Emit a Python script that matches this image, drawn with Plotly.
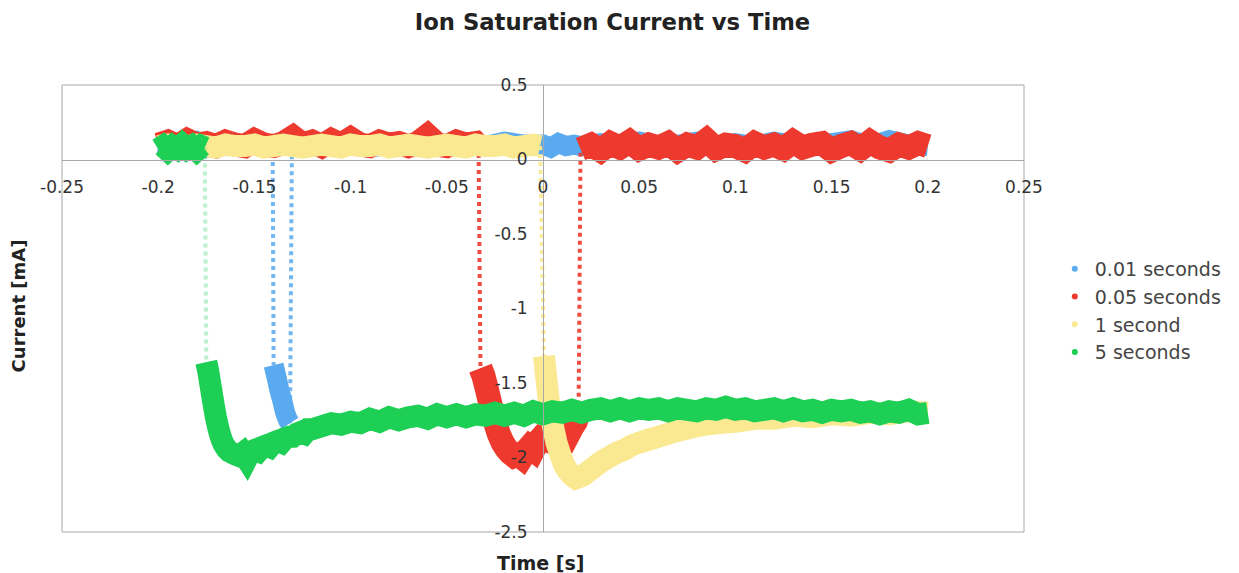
import plotly.graph_objects as go

# ---------------- axis ticks ----------------
X_TICKS = [-0.25, -0.2, -0.15, -0.1, -0.05, 0, 0.05, 0.1, 0.15, 0.2, 0.25]
X_TICK_TEXT = ["-0.25", "-0.2", "-0.15", "-0.1", "-0.05", "0", "0.05", "0.1", "0.15", "0.2", "0.25"]
Y_TICKS = [-2.5, -2, -1.5, -1, -0.5, 0, 0.5]
Y_TICK_TEXT = ["-2.5", "-2", "-1.5", "-1", "-0.5", "0", "0.5"]

SERIES_NAMES = ["0.01 seconds", "0.05 seconds", "1 second", "5 seconds"]

# ---------------- 0.01 seconds (blue) ----------------
BLUE_T1 = [-0.200, -0.195, -0.190, -0.185, -0.180, -0.175, -0.170, -0.165, -0.160, -0.155, -0.150, -0.145, -0.1405]
BLUE_I1 = [0.10, 0.09, 0.11, 0.09, 0.12, 0.08, 0.10, 0.09, 0.11, 0.08, 0.10, 0.09, 0.09]
BLUE_T2 = [-0.1400, -0.1385, -0.1370, -0.1355, -0.1340, -0.1325, -0.1315]
BLUE_I2 = [-1.38, -1.46, -1.55, -1.62, -1.70, -1.75, -1.77]
BLUE_T3 = [-0.1305, -0.120, -0.110, -0.100, -0.090, -0.080, -0.070, -0.060, -0.050, -0.040, -0.030, -0.020,
           -0.010, 0.000, 0.004, 0.008, 0.012, 0.016, 0.020, 0.030, 0.040, 0.050, 0.060, 0.070, 0.080, 0.090,
           0.100, 0.110, 0.120, 0.130, 0.140, 0.150, 0.160, 0.170, 0.180, 0.190, 0.200]
BLUE_I3 = [0.09, 0.11, 0.09, 0.10, 0.08, 0.10, 0.09, 0.12, 0.09, 0.10, 0.09, 0.12,
           0.10, 0.10, 0.08, 0.11, 0.09, 0.10, 0.09, 0.11, 0.09, 0.12, 0.09, 0.10, 0.12, 0.09,
           0.11, 0.09, 0.12, 0.10, 0.09, 0.11, 0.13, 0.09, 0.13, 0.10, 0.09]

# ---------------- 0.05 seconds (red) ----------------
RED_T1 = [-0.200, -0.195, -0.190, -0.185, -0.180, -0.175, -0.170, -0.165, -0.160, -0.155, -0.150, -0.145,
          -0.140, -0.135, -0.130, -0.125, -0.120, -0.115, -0.110, -0.105, -0.100, -0.095, -0.090, -0.085,
          -0.080, -0.075, -0.070, -0.065, -0.060, -0.055, -0.050, -0.045, -0.040, -0.035, -0.0335]
RED_I1 = [0.10, 0.12, 0.09, 0.13, 0.10, 0.11, 0.09, 0.12, 0.10, 0.09, 0.13, 0.10,
          0.09, 0.11, 0.15, 0.10, 0.12, 0.09, 0.13, 0.10, 0.14, 0.10, 0.09, 0.12,
          0.10, 0.11, 0.09, 0.11, 0.16, 0.10, 0.09, 0.12, 0.10, 0.11, 0.09]
RED_T2 = [-0.0325, -0.031, -0.029, -0.027, -0.025, -0.023, -0.021, -0.019, -0.017, -0.015, -0.013, -0.011,
          -0.009, -0.007, -0.005, -0.003, -0.001, 0.001, 0.003, 0.005, 0.007, 0.009, 0.011, 0.013, 0.015,
          0.017, 0.0185]
RED_I2 = [-1.40, -1.45, -1.55, -1.66, -1.76, -1.84, -1.90, -1.94, -1.97, -1.99, -1.98, -2.00,
          -1.96, -1.93, -1.95, -1.90, -1.87, -1.88, -1.85, -1.87, -1.84, -1.86, -1.83, -1.85, -1.80,
          -1.76, -1.70]
RED_T3 = [0.0195, 0.025, 0.030, 0.035, 0.040, 0.045, 0.050, 0.055, 0.060, 0.065, 0.070, 0.075, 0.080,
          0.085, 0.090, 0.095, 0.100, 0.105, 0.110, 0.115, 0.120, 0.125, 0.130, 0.135, 0.140, 0.145,
          0.150, 0.155, 0.160, 0.165, 0.170, 0.175, 0.180, 0.185, 0.190, 0.195, 0.200]
RED_I3 = [0.07, 0.10, 0.06, 0.11, 0.08, 0.12, 0.07, 0.10, 0.08, 0.11, 0.06, 0.10, 0.08,
          0.13, 0.07, 0.10, 0.09, 0.06, 0.11, 0.08, 0.10, 0.07, 0.12, 0.08, 0.10, 0.11,
          0.06, 0.09, 0.11, 0.07, 0.12, 0.08, 0.06, 0.10, 0.08, 0.11, 0.09]

# ---------------- 1 second (yellow) ----------------
YEL_T1 = [-0.200, -0.195, -0.190, -0.185, -0.180, -0.175, -0.170, -0.165, -0.160, -0.155,
          -0.150, -0.145, -0.140, -0.135, -0.130, -0.125, -0.120, -0.115, -0.110, -0.105,
          -0.100, -0.095, -0.090, -0.085, -0.080, -0.075, -0.070, -0.065, -0.060, -0.055,
          -0.050, -0.045, -0.040, -0.035, -0.030, -0.025, -0.020, -0.015, -0.010, -0.005, -0.0015]
YEL_I1 = [0.09, 0.10, 0.08, 0.09, 0.10, 0.09, 0.08, 0.10, 0.09, 0.09,
          0.10, 0.08, 0.09, 0.10, 0.09, 0.08, 0.09, 0.10, 0.09, 0.08,
          0.10, 0.09, 0.09, 0.10, 0.08, 0.09, 0.10, 0.09, 0.08, 0.09,
          0.10, 0.09, 0.08, 0.10, 0.09, 0.09, 0.10, 0.08, 0.09, 0.10, 0.09]
YEL_T2 = [0.0005, 0.002, 0.003, 0.005, 0.007, 0.009, 0.011, 0.013, 0.015, 0.017, 0.019, 0.021, 0.024,
          0.027, 0.030, 0.034, 0.038, 0.042, 0.046, 0.050, 0.055, 0.060, 0.065, 0.070, 0.080, 0.090,
          0.100, 0.110, 0.120, 0.130, 0.140, 0.150, 0.160, 0.170, 0.180, 0.190, 0.200]
YEL_I2 = [-1.32, -1.50, -1.62, -1.78, -1.90, -1.98, -2.05, -2.09, -2.12, -2.14, -2.13, -2.12, -2.09,
          -2.06, -2.03, -2.00, -1.97, -1.95, -1.92, -1.90, -1.88, -1.86, -1.84, -1.82, -1.79, -1.77,
          -1.76, -1.74, -1.74, -1.72, -1.73, -1.71, -1.72, -1.70, -1.71, -1.69, -1.70]

# ---------------- 5 seconds (green) ----------------
GRN_T1 = [-0.200, -0.1975, -0.195, -0.1925, -0.190, -0.1875, -0.185, -0.1825, -0.180, -0.1775, -0.1758]
GRN_I1 = [0.07, 0.09, 0.06, 0.09, 0.07, 0.10, 0.07, 0.09, 0.06, 0.09, 0.08]
GRN_T2 = [-0.1750, -0.1740, -0.1730, -0.1720, -0.1710, -0.1700, -0.1690, -0.1680, -0.1670, -0.1660,
          -0.1645, -0.1630, -0.1615, -0.160, -0.158, -0.156, -0.154, -0.152, -0.150, -0.148, -0.146,
          -0.144, -0.142, -0.140, -0.138, -0.136, -0.134, -0.132, -0.130, -0.128, -0.126, -0.124,
          -0.122, -0.120,
          -0.115, -0.110, -0.105, -0.100, -0.095, -0.090, -0.085, -0.080, -0.075, -0.070, -0.065,
          -0.060, -0.055, -0.050, -0.045, -0.040, -0.035, -0.030, -0.025, -0.020, -0.015, -0.010,
          -0.005, 0.000, 0.005, 0.010, 0.015, 0.020, 0.025, 0.030, 0.035, 0.040, 0.045, 0.050,
          0.055, 0.060, 0.065, 0.070, 0.075, 0.080, 0.085, 0.090, 0.095, 0.100, 0.105, 0.110,
          0.115, 0.120, 0.125, 0.130, 0.135, 0.140, 0.145, 0.150, 0.155, 0.160, 0.165, 0.170,
          0.175, 0.180, 0.185, 0.190, 0.195, 0.200]
GRN_I2 = [-1.36, -1.42, -1.50, -1.58, -1.66, -1.73, -1.79, -1.84, -1.88, -1.91,
          -1.94, -1.96, -1.97, -1.98, -1.99, -1.97, -2.01, -1.96, -1.95, -1.96, -1.93,
          -1.92, -1.93, -1.90, -1.89, -1.90, -1.87, -1.86, -1.86, -1.84, -1.83, -1.84,
          -1.81, -1.81,
          -1.79, -1.77, -1.78, -1.76, -1.77, -1.74, -1.76, -1.73, -1.75, -1.73, -1.72,
          -1.74, -1.71, -1.73, -1.71, -1.73, -1.71, -1.72, -1.70, -1.72, -1.70, -1.72,
          -1.69, -1.71, -1.69, -1.70, -1.68, -1.70, -1.68, -1.67, -1.69, -1.67, -1.69, -1.67,
          -1.68, -1.67, -1.69, -1.67, -1.68, -1.69, -1.67, -1.68, -1.66, -1.68, -1.67, -1.69,
          -1.68, -1.67, -1.69, -1.67, -1.69, -1.68, -1.70, -1.68, -1.69, -1.68, -1.70, -1.69,
          -1.71, -1.69, -1.70, -1.68, -1.71, -1.70]

# name, colour, segments, band width, transition opacity
SERIES = [
    (SERIES_NAMES[0], "#5aaaf0", [(BLUE_T1, BLUE_I1), (BLUE_T2, BLUE_I2), (BLUE_T3, BLUE_I3)], 20, 0.85),
    (SERIES_NAMES[1], "#ee3a2e", [(RED_T1, RED_I1), (RED_T2, RED_I2), (RED_T3, RED_I3)], 24, 0.9),
    (SERIES_NAMES[2], "#fbe992", [(YEL_T1, YEL_I1), (YEL_T2, YEL_I2)], 22, 0.95),
    (SERIES_NAMES[3], "#1ecf55", [(GRN_T1, GRN_I1), (GRN_T2, GRN_I2)], 22, 0.3),
]

FONT = "DejaVu Sans"
fig = go.Figure()

for name, color, segs, width, trans_op in SERIES:
    xs, ys = [], []
    for k, (t, i) in enumerate(segs):
        assert len(t) == len(i), name
        if k:
            xs.append(None)
            ys.append(None)
        xs += t
        ys += i
    fig.add_trace(go.Scatter(x=xs, y=ys, mode="lines", showlegend=False, hoverinfo="skip",
                             line=dict(color=color, width=width, simplify=False)))
    tx, ty = [], []
    for (at, ai), (bt, bi) in zip(segs[:-1], segs[1:]):
        tx += [at[-1], bt[0], None]
        ty += [ai[-1], bi[0], None]
    fig.add_trace(go.Scatter(x=tx, y=ty, mode="lines", showlegend=False, hoverinfo="skip",
                             opacity=trans_op, line=dict(color=color, width=4, dash="dot")))

# legend entries (marker style as in the original)
for k, (name, color, segs, width, trans_op) in enumerate(SERIES):
    fig.add_trace(go.Scatter(x=[None], y=[None], mode="markers", name=name, legendgroup=f"g{k}",
                             marker=dict(color=color, size=6)))

axis_common = dict(showgrid=False, zeroline=False, showline=True, linecolor="#a8a8a8", linewidth=1,
                   ticks="", tickfont=dict(family=FONT, size=17, color="#333333"),
                   anchor="free", fixedrange=True)

# the page body adds an 8 px margin, so the figure is 8 px smaller on each axis
fig.update_layout(
    width=1231, height=565,
    margin=dict(l=54, r=207, t=77, b=41),
    paper_bgcolor="white", plot_bgcolor="white",
    title=dict(text="<b>Ion Saturation Current vs Time</b>", x=0.4911, xref="container", xanchor="center",
               y=1 - 14 / 565, yref="container", yanchor="middle",
               font=dict(family=FONT, size=22.7, color="#222222")),
    xaxis=dict(range=[-0.25, 0.25], tickvals=X_TICKS, ticktext=X_TICK_TEXT, position=2.5 / 3.0,
               ticklabelstandoff=12, **axis_common),
    yaxis=dict(range=[-2.5, 0.5], tickvals=Y_TICKS, ticktext=Y_TICK_TEXT, position=0.5,
               ticklabelstandoff=12, **axis_common),
    legend=dict(x=1.032, y=0.631, xanchor="left", yanchor="top", tracegroupgap=0,
                font=dict(family=FONT, size=19, color="#444444"), bgcolor="rgba(0,0,0,0)"),
    shapes=[dict(type="rect", xref="paper", yref="paper", x0=0, x1=1, y0=0, y1=1,
                 line=dict(color="#a8a8a8", width=1), layer="below")],
    annotations=[
        dict(text="<b>Time [s]</b>", xref="paper", yref="paper", x=0.497, y=-0.0694,
             xanchor="center", yanchor="middle", showarrow=False,
             font=dict(family=FONT, size=19, color="#222222")),
        dict(text="<b>Current [mA]</b>", xref="paper", yref="paper", x=-0.0443, y=0.5056,
             xanchor="center", yanchor="middle", showarrow=False, textangle=-90,
             font=dict(family=FONT, size=18, color="#222222")),
    ],
)

fig.write_html("out.html")
